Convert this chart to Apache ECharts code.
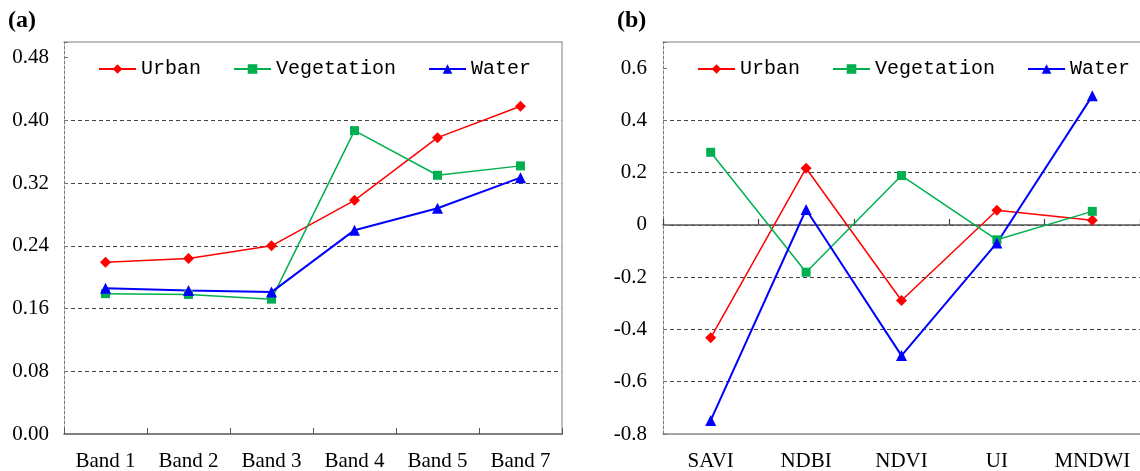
<!DOCTYPE html>
<html>
<head>
<meta charset="utf-8">
<script src="https://cdn.jsdelivr.net/npm/echarts@6/dist/echarts.min.js"></script>
<style>
html,body{margin:0;padding:0;background:#fff;}
#chart{width:1140px;height:471px;}
</style>
</head>
<body>
<div id="chart"></div>
<script>
// ---- data (a): reflectance per band ----
const bands = ['Band 1', 'Band 2', 'Band 3', 'Band 4', 'Band 5', 'Band 7'];
const urbanBands = [0.219, 0.224, 0.240, 0.298, 0.378, 0.418];
const vegBands   = [0.179, 0.178, 0.172, 0.387, 0.330, 0.342];
const waterBands = [0.186, 0.183, 0.181, 0.260, 0.288, 0.327];
// ---- data (b): index values ----
const indices  = ['SAVI', 'NDBI', 'NDVI', 'UI', 'MNDWI'];
const urbanIdx = [-0.432, 0.217, -0.289, 0.056, 0.018];
const vegIdx   = [0.278, -0.181, 0.189, -0.057, 0.052];
const waterIdx = [-0.748, 0.059, -0.500, -0.069, 0.494];
const seriesNames = ['Urban', 'Vegetation', 'Water'];

const RED = '#ff0000', GREEN = '#00b050', BLUE = '#0000ff';
const serif = 'Liberation Serif';
const mono = 'Liberation Mono';
const GRID = '#444';
const T = 'rgba(0,0,0,0)';

const chart = echarts.init(document.getElementById('chart'), null, {renderer: 'canvas'});

function mkSeries(name, data, xi, yi) {
  const styles = {
    Urban: {color: RED, symbol: 'diamond', size: 11, w: 1.5},
    Vegetation: {color: GREEN, symbol: 'rect', size: 9, w: 1.5},
    Water: {color: BLUE, symbol: 'triangle', size: 11, w: 2}
  }[name];
  return {
    name: name, type: 'line', data: data, xAxisIndex: xi, yAxisIndex: yi,
    symbol: styles.symbol, symbolSize: styles.size, showAllSymbol: true,
    itemStyle: {color: styles.color},
    lineStyle: {color: styles.color, width: styles.w},
    emphasis: {disabled: true}, animation: false
  };
}

const legendCommon = {
  data: seriesNames, itemWidth: 37, itemHeight: 12, itemGap: 32, padding: 0,
  textStyle: {fontFamily: mono, fontSize: 20, color: '#000'},
  selectedMode: false
};

const option = {
  backgroundColor: '#fff',
  animation: false,
  title: [
    {text: '(a)', left: 8, top: 9, padding: 0,
     textStyle: {fontFamily: serif, fontWeight: 'bold', fontSize: 24, color: '#000'}},
    {text: '(b)', left: 617, top: 9, padding: 0,
     textStyle: {fontFamily: serif, fontWeight: 'bold', fontSize: 24, color: '#000'}}
  ],
  legend: [
    Object.assign({}, legendCommon, {left: 98, top: 59}),
    Object.assign({}, legendCommon, {left: 697, top: 59})
  ],
  grid: [
    {left: 64, top: 42, right: 578, bottom: 37, outerBoundsMode: 'none', containLabel: false},
    {left: 663, top: 42, right: 0, bottom: 37, outerBoundsMode: 'none', containLabel: false}
  ],
  xAxis: [
    // (a) bottom
    {type: 'category', gridIndex: 0, data: bands, position: 'bottom', boundaryGap: true,
     axisLine: {onZero: false, lineStyle: {color: '#555', width: 1.5}},
     axisTick: {show: true, inside: true, length: 6, lineStyle: {color: '#555', width: 1}},
     axisLabel: {fontFamily: serif, fontSize: 21, color: '#000', margin: 17, interval: 0},
     splitLine: {show: false}},
    // (a) top border
    {type: 'category', gridIndex: 0, data: bands, position: 'top',
     axisLine: {onZero: false, lineStyle: {color: '#aaa', width: 1.5}},
     axisTick: {show: false}, axisLabel: {show: false}, splitLine: {show: false}},
    // (b) bottom labels
    {type: 'category', gridIndex: 1, data: indices, position: 'bottom', boundaryGap: true,
     axisLine: {onZero: false, lineStyle: {color: '#888', width: 1.5}},
     axisTick: {show: false},
     axisLabel: {fontFamily: serif, fontSize: 21, color: '#000', margin: 17, interval: 0},
     splitLine: {show: false}},
    // (b) zero line with ticks
    {type: 'category', gridIndex: 1, data: indices, position: 'bottom', boundaryGap: true,
     axisLine: {onZero: true, lineStyle: {color: '#555', width: 1.5}},
     axisTick: {show: true, inside: true, length: 6, interval: 0, lineStyle: {color: '#444', width: 1.2}},
     axisLabel: {show: false, interval: 0}, splitLine: {show: false}},
    // (b) top border
    {type: 'category', gridIndex: 1, data: indices, position: 'top',
     axisLine: {onZero: false, lineStyle: {color: '#aaa', width: 1.5}},
     axisTick: {show: false}, axisLabel: {show: false}, splitLine: {show: false}}
  ],
  yAxis: [
    // (a) left
    {type: 'value', gridIndex: 0, min: 0, max: 0.5, interval: 0.08, position: 'left',
     axisLine: {show: true, onZero: false, lineStyle: {color: '#777', width: 1, type: [3, 2]}},
     axisTick: {show: true, inside: true, length: 4, lineStyle: {color: '#777'}},
     axisLabel: {fontFamily: serif, fontSize: 21, color: '#000', margin: 15,
       formatter: v => (Math.abs(v - 0.5) < 1e-9 ? '' : v.toFixed(2))},
     splitLine: {show: true, showMinLine: false, showMaxLine: false,
       lineStyle: {color: [GRID, GRID, GRID, GRID, GRID, T], type: [4, 3], width: 1}}},
    // (a) right border
    {type: 'value', gridIndex: 0, min: 0, max: 0.5, position: 'right',
     axisLine: {show: true, onZero: false, lineStyle: {color: '#aaa', width: 1.5}},
     axisTick: {show: false}, axisLabel: {show: false}, splitLine: {show: false}},
    // (b) left
    {type: 'value', gridIndex: 1, min: -0.8, max: 0.7, interval: 0.2, position: 'left',
     axisLine: {show: true, onZero: false, lineStyle: {color: '#777', width: 1, type: [3, 2]}},
     axisTick: {show: true, inside: true, length: 4, lineStyle: {color: '#777'}},
     axisLabel: {fontFamily: serif, fontSize: 21, color: '#000', margin: 16,
       formatter: v => (Math.abs(v - 0.7) < 1e-9 ? '' : String(+v.toFixed(1)))},
     splitLine: {show: true, showMinLine: false, showMaxLine: false,
       lineStyle: {color: [GRID, GRID, GRID, GRID, GRID, GRID, T], type: [4, 3], width: 1}}}
  ],
  series: [
    mkSeries('Urban', urbanBands, 0, 0),
    mkSeries('Vegetation', vegBands, 0, 0),
    mkSeries('Water', waterBands, 0, 0),
    mkSeries('Urban', urbanIdx, 2, 2),
    mkSeries('Vegetation', vegIdx, 2, 2),
    mkSeries('Water', waterIdx, 2, 2)
  ]
};
chart.setOption(option);
</script>
</body>
</html>
